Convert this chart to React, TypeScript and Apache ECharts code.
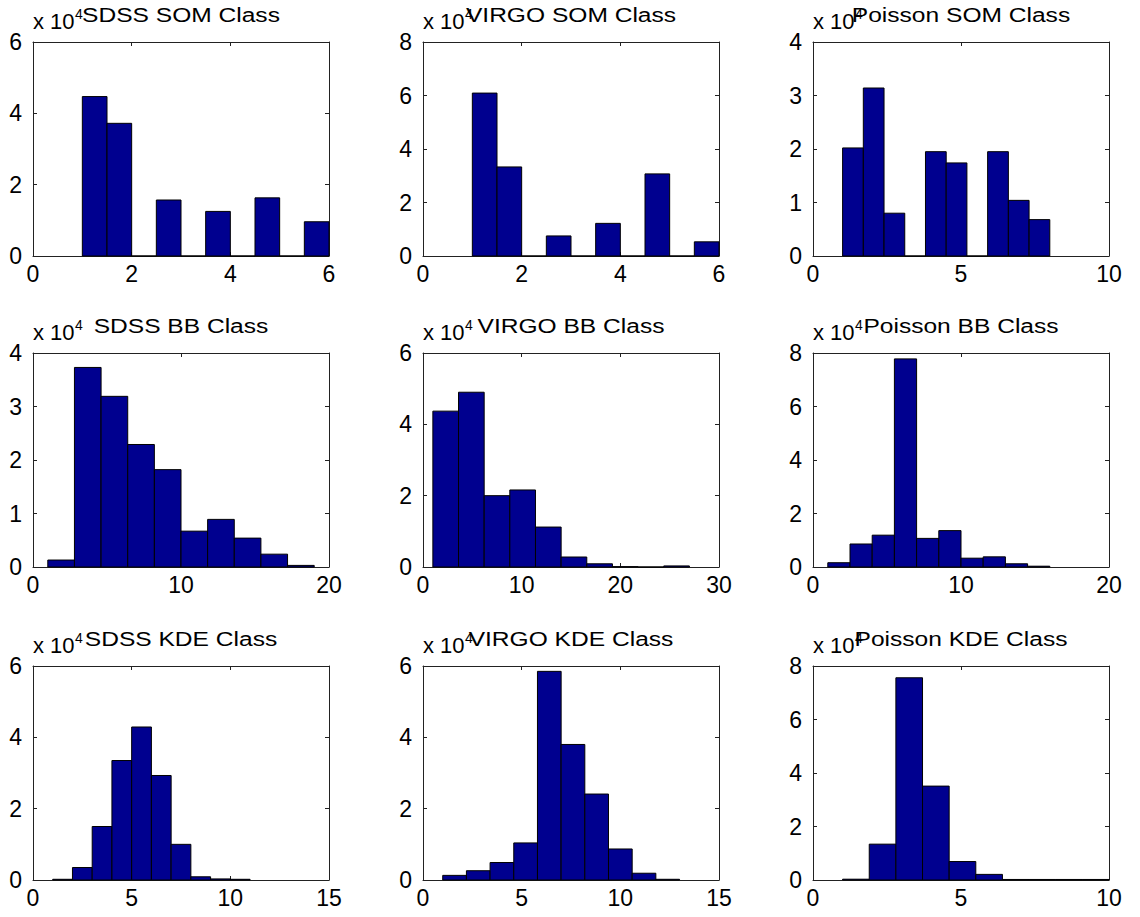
import React, { useEffect, useRef } from "react";
import * as echarts from "echarts";

// ---- data (counts in units of 10^4) ----
const panelTitles = [
  "SDSS SOM Class", "VIRGO SOM Class", "Poisson SOM Class",
  "SDSS BB Class", "VIRGO BB Class", "Poisson BB Class",
  "SDSS KDE Class", "VIRGO KDE Class", "Poisson KDE Class",
];
const exponentPrefix = "x 10";
const exponentPower = "4";

const sdssSomCenters = [1.25, 1.75, 2.25, 2.75, 3.25, 3.75, 4.25, 4.75, 5.25, 5.75];
const sdssSomCounts = [4.47, 3.72, 0, 1.57, 0, 1.25, 0, 1.63, 0, 0.96];
const virgoSomCenters = [1.25, 1.75, 2.25, 2.75, 3.25, 3.75, 4.25, 4.75, 5.25, 5.75];
const virgoSomCounts = [6.09, 3.33, 0, 0.75, 0, 1.22, 0, 3.07, 0, 0.53];
const poissonSomCenters = [1.35, 2.05, 2.75, 3.45, 4.15, 4.85, 5.55, 6.25, 6.95, 7.65];
const poissonSomCounts = [2.02, 3.14, 0.8, 0, 1.95, 1.74, 0, 1.95, 1.04, 0.68];

const sdssBbCenters = [1.9, 3.7, 5.5, 7.3, 9.1, 10.9, 12.7, 14.5, 16.3, 18.1];
const sdssBbCounts = [0.13, 3.73, 3.19, 2.29, 1.82, 0.67, 0.89, 0.54, 0.24, 0.03];
const virgoBbCenters = [2.3, 4.9, 7.5, 10.1, 12.7, 15.3, 17.9, 20.5, 23.1, 25.7];
const virgoBbCounts = [4.37, 4.9, 2.0, 2.16, 1.12, 0.28, 0.09, 0.01, 0, 0.03];
const poissonBbCenters = [1.75, 3.25, 4.75, 6.25, 7.75, 9.25, 10.75, 12.25, 13.75, 15.25];
const poissonBbCounts = [0.16, 0.86, 1.19, 7.78, 1.07, 1.36, 0.33, 0.38, 0.12, 0.03];

const sdssKdeCenters = [1.5, 2.5, 3.5, 4.5, 5.5, 6.5, 7.5, 8.5, 9.5, 10.5];
const sdssKdeCounts = [0.02, 0.35, 1.5, 3.35, 4.29, 2.93, 1.0, 0.09, 0.03, 0.02];
const virgoKdeCenters = [1.6, 2.8, 4.0, 5.2, 6.4, 7.6, 8.8, 10.0, 11.2, 12.4];
const virgoKdeCounts = [0.13, 0.26, 0.49, 1.04, 5.85, 3.8, 2.41, 0.87, 0.19, 0.02];
const poissonKdeCenters = [1.45, 2.35, 3.25, 4.15, 5.05, 5.95, 6.85, 7.75, 8.65, 9.55];
const poissonKdeCounts = [0.03, 1.34, 7.56, 3.51, 0.69, 0.21, 0.02, 0.02, 0.02, 0.02];

const xMaxes = [6, 6, 10, 20, 30, 20, 15, 15, 10];
const xSteps = [2, 2, 5, 10, 10, 10, 5, 5, 5];
const yMaxes = [6, 8, 4, 4, 6, 8, 6, 6, 8];
const ySteps = [2, 2, 1, 1, 2, 2, 2, 2, 2];

const allCenters = [
  sdssSomCenters, virgoSomCenters, poissonSomCenters,
  sdssBbCenters, virgoBbCenters, poissonBbCenters,
  sdssKdeCenters, virgoKdeCenters, poissonKdeCenters,
];
const allCounts = [
  sdssSomCounts, virgoSomCounts, poissonSomCounts,
  sdssBbCounts, virgoBbCounts, poissonBbCounts,
  sdssKdeCounts, virgoKdeCounts, poissonKdeCounts,
];

// ---- layout ----
const GRID_LEFTS = [33, 423, 813];
const GRID_TOPS = [42, 353, 666];
const GRID_W = 296;
const GRID_H = 214;
const FONT = "Liberation Sans";
const AXIS_COLOR = "#222";
const BAR_COLOR = "#00008F";

export default function App() {
  const ref = useRef<HTMLDivElement>(null);

  useEffect(() => {
    document.body.style.margin = "0";
    if (!ref.current) return;
    const chart = echarts.init(ref.current, null, { renderer: "svg" });

    const grids: any[] = [];
    const xAxes: any[] = [];
    const yAxes: any[] = [];
    const series: any[] = [];
    const graphics: any[] = [];

    for (let i = 0; i < 9; i++) {
      const left = GRID_LEFTS[i % 3];
      const top = GRID_TOPS[Math.floor(i / 3)];
      grids.push({ left, top, width: GRID_W, height: GRID_H, show: false, containLabel: false });

      const lineCfg = { show: true, onZero: false, lineStyle: { color: AXIS_COLOR, width: 1 } };
      const tickCfg = { show: true, inside: true, length: 4, lineStyle: { color: AXIS_COLOR } };
      const labelCfg = { fontSize: 23, color: "#000", fontFamily: FONT };

      xAxes.push({
        type: "value", gridIndex: i, position: "bottom", min: 0, max: xMaxes[i], interval: xSteps[i],
        axisLine: lineCfg, axisTick: tickCfg, splitLine: { show: false },
        axisLabel: { ...labelCfg, margin: 6 },
      });
      xAxes.push({
        type: "value", gridIndex: i, position: "top", min: 0, max: xMaxes[i], interval: xSteps[i],
        axisLine: lineCfg, axisTick: tickCfg, splitLine: { show: false }, axisLabel: { show: false },
      });
      yAxes.push({
        type: "value", gridIndex: i, position: "left", min: 0, max: yMaxes[i], interval: ySteps[i],
        axisLine: lineCfg, axisTick: tickCfg, splitLine: { show: false },
        axisLabel: { ...labelCfg, margin: 11 },
      });
      yAxes.push({
        type: "value", gridIndex: i, position: "right", min: 0, max: yMaxes[i], interval: ySteps[i],
        axisLine: lineCfg, axisTick: tickCfg, splitLine: { show: false }, axisLabel: { show: false },
      });

      const centers = allCenters[i];
      const counts = allCounts[i];
      const binW = centers[1] - centers[0];
      series.push({
        type: "custom",
        xAxisIndex: 2 * i,
        yAxisIndex: 2 * i,
        clip: false,
        data: centers.map((c, k) => [c, counts[k]]),
        renderItem: (params: any, api: any) => {
          const c = api.value(0);
          const h = api.value(1);
          const p0 = api.coord([c - binW / 2, h]);
          const p1 = api.coord([c + binW / 2, 0]);
          return {
            type: "rect",
            shape: { x: p0[0], y: p0[1], width: p1[0] - p0[0], height: p1[1] - p0[1] },
            style: { fill: BAR_COLOR, stroke: "#000", lineWidth: 1 },
          };
        },
      });

      graphics.push({
        type: "text", x: left, y: top - 21, z: 10,
        style: { text: exponentPrefix, font: `22px '${FONT}'`, fill: "#000", textAlign: "left", textVerticalAlign: "middle" },
      });
      graphics.push({
        type: "text", x: left + 42, y: top - 28, z: 10,
        style: { text: exponentPower, font: `14px '${FONT}'`, fill: "#000", textAlign: "left", textVerticalAlign: "middle" },
      });
      graphics.push({
        type: "text", x: left + GRID_W / 2, y: top - 27, scaleX: 1.17, z: 11,
        style: { text: panelTitles[i], font: `21px '${FONT}'`, fill: "#000", textAlign: "center", textVerticalAlign: "middle" },
      });
    }

    chart.setOption({
      animation: false,
      backgroundColor: "#fff",
      grid: grids,
      xAxis: xAxes,
      yAxis: yAxes,
      series,
      graphic: graphics,
    });

    return () => chart.dispose();
  }, []);

  return <div ref={ref} style={{ width: 1140, height: 917 }} />;
}
